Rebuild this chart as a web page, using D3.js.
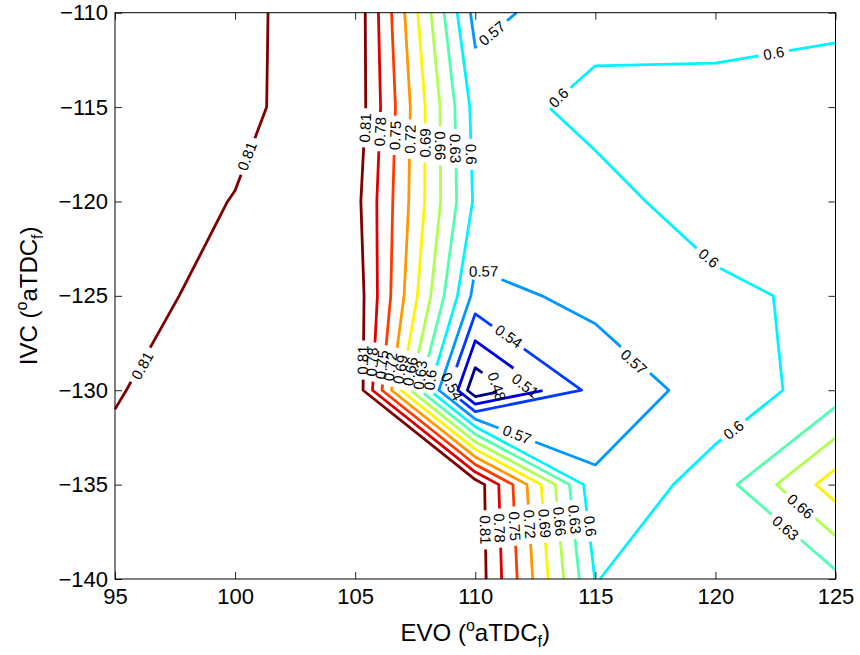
<!DOCTYPE html>
<html>
<head>
<meta charset="utf-8">
<script src="https://cdn.jsdelivr.net/npm/d3@7"></script>
<style>
  body { margin: 0; background: #fff; }
  svg text { font-family: "Liberation Sans", Arial, Helvetica, sans-serif; }
</style>
</head>
<body>
<svg id="chart" width="860" height="655"></svg>
<script>
// Grid axes (crank angle, degrees after firing TDC)
const evo = [95, 100, 105, 110, 115, 120, 125];
const ivc = [-140, -135, -130, -125, -120, -115, -110];

// Efficiency map, one row per IVC value (bottom to top), columns follow evo
const effIvc140 = [0.825, 0.830, 0.830, 0.831, 0.599, 0.625, 0.622];
const effIvc135 = [0.8204, 0.830, 0.830, 0.830, 0.575, 0.6135, 0.705];
const effIvc130 = [0.8074, 0.835, 0.835, 0.455, 0.551, 0.582, 0.614];
const effIvc125 = [0.7928, 0.825, 0.830, 0.560, 0.578, 0.5947, 0.6057];
const effIvc120 = [0.795, 0.811, 0.8207, 0.595, 0.5918, 0.6113, 0.615];
const effIvc115 = [0.795, 0.8024, 0.8313, 0.589, 0.607, 0.607, 0.6128];
const effIvc110 = [0.795, 0.8013, 0.833, 0.559, 0.591, 0.592, 0.594];

// Contour levels
const levels = [0.48, 0.51, 0.54, 0.57, 0.60, 0.63, 0.66, 0.69, 0.72, 0.75, 0.78, 0.81];

// Axis ticks
const xTicks = [95, 100, 105, 110, 115, 120, 125];
const yTicks = [-140, -135, -130, -125, -120, -115, -110];

// Inline contour label spots (level, EVO, IVC); optional fixed rotation
const labelSpots = [
  { level: 0.81, evo: 100.5, ivc: -117.6 },
  { level: 0.81, evo: 96.14, ivc: -128.7 },

  { level: 0.81, evo: 105.42, ivc: -116.1 },
  { level: 0.78, evo: 106.04, ivc: -116.3 },
  { level: 0.75, evo: 106.67, ivc: -116.5 },
  { level: 0.72, evo: 107.29, ivc: -116.7 },
  { level: 0.69, evo: 107.92, ivc: -116.9 },
  { level: 0.66, evo: 108.54, ivc: -117.05 },
  { level: 0.63, evo: 109.17, ivc: -117.2 },
  { level: 0.60, evo: 109.83, ivc: -117.5 },

  { level: 0.81, evo: 105.32, ivc: -128.4 },
  { level: 0.78, evo: 105.70, ivc: -128.5 },
  { level: 0.75, evo: 106.11, ivc: -128.65 },
  { level: 0.72, evo: 106.46, ivc: -128.75 },
  { level: 0.69, evo: 106.88, ivc: -128.9 },
  { level: 0.66, evo: 107.29, ivc: -129.0 },
  { level: 0.63, evo: 107.71, ivc: -129.2 },
  { level: 0.60, evo: 108.13, ivc: -129.45 },
  { level: 0.54, evo: 109.03, ivc: -129.8, angle: 62 },

  { level: 0.81, evo: 110.42, ivc: -137.4 },
  { level: 0.78, evo: 111.01, ivc: -137.3 },
  { level: 0.75, evo: 111.64, ivc: -137.2 },
  { level: 0.72, evo: 112.26, ivc: -137.1 },
  { level: 0.69, evo: 112.89, ivc: -137.05 },
  { level: 0.66, evo: 113.51, ivc: -136.95 },
  { level: 0.63, evo: 114.14, ivc: -136.85 },
  { level: 0.60, evo: 114.79, ivc: -137.2 },

  { level: 0.57, evo: 110.7, ivc: -111.1 },
  { level: 0.60, evo: 113.47, ivc: -114.5 },
  { level: 0.60, evo: 122.43, ivc: -112.15 },
  { level: 0.60, evo: 119.72, ivc: -123.0 },
  { level: 0.60, evo: 120.76, ivc: -132.1 },

  { level: 0.57, evo: 110.35, ivc: -123.7 },
  { level: 0.57, evo: 116.6, ivc: -128.5 },
  { level: 0.57, evo: 111.74, ivc: -132.35 },
  { level: 0.54, evo: 111.39, ivc: -127.15 },
  { level: 0.51, evo: 112.08, ivc: -129.75 },
  { level: 0.48, evo: 110.9, ivc: -129.8, angle: 72 },

  { level: 0.66, evo: 123.54, ivc: -136.15 },
  { level: 0.63, evo: 122.92, ivc: -137.3 }
];

const grid = [effIvc140, effIvc135, effIvc130, effIvc125, effIvc120, effIvc115, effIvc110];

const svg = d3.select("#chart");
const plot = { left: 115, right: 835.5, top: 12.7, bottom: 579 };

const x = d3.scaleLinear().domain([95, 125]).range([plot.left, plot.right]);
const y = d3.scaleLinear().domain([-140, -110]).range([plot.bottom, plot.top]);

// jet colormap stretched over the contour levels
const jet = d3.scaleLinear()
  .domain([0, 0.125, 0.375, 0.625, 0.875, 1])
  .range(["#000080", "#0000ff", "#00ffff", "#ffff00", "#ff0000", "#800000"]);
const levelT = d3.scaleLinear().domain([levels[0], levels[levels.length - 1]]).range([0, 1]);
const colorOf = v => jet(levelT(v));

// ---- contour tracing: straight segments inside each grid cell ----
function cellSegments(level) {
  const segs = [];
  for (let j = 0; j < ivc.length - 1; j++) {
    for (let i = 0; i < evo.length - 1; i++) {
      const z00 = grid[j][i], z10 = grid[j][i + 1], z01 = grid[j + 1][i], z11 = grid[j + 1][i + 1];
      const P00 = [evo[i], ivc[j]], P10 = [evo[i + 1], ivc[j]];
      const P01 = [evo[i], ivc[j + 1]], P11 = [evo[i + 1], ivc[j + 1]];
      const pts = [];
      const edge = (za, zb, key, pa, pb) => {
        if ((za < level) !== (zb < level)) {
          const t = (level - za) / (zb - za);
          pts.push({ key, p: [pa[0] + t * (pb[0] - pa[0]), pa[1] + t * (pb[1] - pa[1])] });
        } else {
          pts.push(null);
        }
      };
      edge(z00, z10, `h${i},${j}`, P00, P10);       // bottom
      edge(z10, z11, `v${i + 1},${j}`, P10, P11);   // right
      edge(z01, z11, `h${i},${j + 1}`, P01, P11);   // top
      edge(z00, z01, `v${i},${j}`, P00, P01);       // left
      const hit = pts.filter(p => p);
      if (hit.length === 2) {
        segs.push(hit);
      } else if (hit.length === 4) {
        const c = (z00 + z10 + z01 + z11) / 4;
        if ((c < level) === (z00 < level)) {
          segs.push([pts[0], pts[1]], [pts[2], pts[3]]);
        } else {
          segs.push([pts[0], pts[3]], [pts[1], pts[2]]);
        }
      }
    }
  }
  return segs;
}

function chain(segs) {
  const byKey = new Map();
  segs.forEach((s, idx) => s.forEach(e => {
    if (!byKey.has(e.key)) byKey.set(e.key, []);
    byKey.get(e.key).push(idx);
  }));
  const used = new Array(segs.length).fill(false);
  const lines = [];
  const walk = (startIdx, startKey) => {
    let idx = startIdx, key = startKey;
    const s0 = segs[idx];
    const pts = [(s0[0].key === key ? s0[0] : s0[1]).p];
    while (idx !== undefined && !used[idx]) {
      used[idx] = true;
      const s = segs[idx];
      const other = s[0].key === key ? s[1] : s[0];
      pts.push(other.p);
      key = other.key;
      idx = (byKey.get(key) || []).find(k => !used[k]);
    }
    return pts;
  };
  for (const [key, list] of byKey) {
    if (list.length === 1 && !used[list[0]]) lines.push({ pts: walk(list[0], key), closed: false });
  }
  segs.forEach((s, idx) => {
    if (!used[idx]) lines.push({ pts: walk(idx, s[0].key), closed: true });
  });
  return lines;
}

// ---- polyline helpers in pixel space ----
function cumLen(pts) {
  const c = [0];
  for (let k = 1; k < pts.length; k++) {
    c.push(c[k - 1] + Math.hypot(pts[k][0] - pts[k - 1][0], pts[k][1] - pts[k - 1][1]));
  }
  return c;
}
function pointAt(line, s) {
  const { pts, c, closed } = line;
  const T = c[c.length - 1];
  if (closed) s = ((s % T) + T) % T;
  if (s <= 0) return pts[0];
  if (s >= T) return pts[pts.length - 1];
  const k = d3.bisectRight(c, s);
  const t = (s - c[k - 1]) / (c[k] - c[k - 1]);
  return [pts[k - 1][0] + t * (pts[k][0] - pts[k - 1][0]), pts[k - 1][1] + t * (pts[k][1] - pts[k - 1][1])];
}
function subPath(line, a, b) {
  const out = [pointAt(line, a)];
  line.pts.forEach((p, k) => { if (line.c[k] > a && line.c[k] < b) out.push(p); });
  out.push(pointAt(line, b));
  return out;
}
function nearest(line, q) {
  let best = { s: 0, d: Infinity };
  const { pts, c } = line;
  for (let k = 1; k < pts.length; k++) {
    const a = pts[k - 1], b = pts[k];
    const dx = b[0] - a[0], dy = b[1] - a[1];
    const L2 = dx * dx + dy * dy;
    let t = L2 ? ((q[0] - a[0]) * dx + (q[1] - a[1]) * dy) / L2 : 0;
    t = Math.max(0, Math.min(1, t));
    const d = Math.hypot(q[0] - (a[0] + t * dx), q[1] - (a[1] + t * dy));
    if (d < best.d) best = { s: c[k - 1] + t * Math.sqrt(L2), d };
  }
  return best;
}
function visiblePieces(line) {
  const T = line.c[line.c.length - 1];
  if (!line.gaps.length) return [line.pts];
  let iv = [];
  line.gaps.forEach(([a, b]) => {
    if (line.closed) {
      const len = b - a;
      if (len >= T) { iv.push([0, T]); return; }
      a = ((a % T) + T) % T;
      const e = a + len;
      if (e > T) { iv.push([a, T], [0, e - T]); } else { iv.push([a, e]); }
    } else {
      iv.push([Math.max(0, a), Math.min(T, b)]);
    }
  });
  iv.sort((p, q) => p[0] - q[0]);
  const merged = [];
  iv.forEach(g => {
    const last = merged[merged.length - 1];
    if (last && g[0] <= last[1]) last[1] = Math.max(last[1], g[1]);
    else merged.push(g.slice());
  });
  const vis = [];
  let cur = 0;
  merged.forEach(([a, b]) => { if (a > cur) vis.push([cur, a]); cur = Math.max(cur, b); });
  if (cur < T) vis.push([cur, T]);
  const pieces = vis.map(([a, b]) => subPath(line, a, b));
  if (line.closed && vis.length > 1 && vis[0][0] === 0 && vis[vis.length - 1][1] === T) {
    const first = pieces.shift();
    const last = pieces.pop();
    pieces.push(last.concat(first.slice(1)));
  }
  return pieces.filter(p => p.length > 1);
}

// ---- build all contour lines ----
const contourLines = [];
levels.forEach(level => {
  chain(cellSegments(level)).forEach(l => {
    const pts = l.pts.map(p => [x(p[0]), y(p[1])]);
    contourLines.push({ level, pts, closed: l.closed, c: cumLen(pts), gaps: [] });
  });
});

// ---- labels: measure text, cut a gap in the line, orient along the gap chord ----
const labelLayer = svg.append("g").attr("class", "contour-labels");
const labelFont = 15;
labelSpots.forEach(spot => {
  const q = [x(spot.evo), y(spot.ivc)];
  let best = null;
  contourLines.filter(l => Math.abs(l.level - spot.level) < 1e-9).forEach(l => {
    const n = nearest(l, q);
    if (!best || n.d < best.n.d) best = { l, n };
  });
  if (!best) return;
  const txt = labelLayer.append("text")
    .attr("font-size", labelFont)
    .attr("text-anchor", "middle")
    .attr("dy", "0.35em")
    .text(String(spot.level));
  const w = txt.node().getComputedTextLength();
  const g = w / 2 + 5;
  const s0 = best.n.s;
  best.l.gaps.push([s0 - g, s0 + g]);
  let ang = spot.angle;
  if (ang === undefined) {
    const a = pointAt(best.l, s0 - g), b = pointAt(best.l, s0 + g);
    ang = Math.atan2(b[1] - a[1], b[0] - a[0]) * 180 / Math.PI;
    if (ang > 90) ang -= 180;
    if (ang <= -90) ang += 180;
  }
  txt.attr("transform", `translate(${q[0]},${q[1]}) rotate(${ang})`);
});

// ---- draw the contour lines (under the labels) ----
const lineGen = d3.line();
const lineLayer = svg.insert("g", ".contour-labels").attr("class", "contour-lines");
contourLines.forEach(l => {
  visiblePieces(l).forEach(piece => {
    lineLayer.append("path")
      .attr("d", lineGen(piece))
      .attr("fill", "none")
      .attr("stroke", colorOf(l.level))
      .attr("stroke-width", 2.8)
      .attr("stroke-linejoin", "round")
      .attr("stroke-linecap", "butt");
  });
});

// ---- axes (ticks inside, box on) ----
const tickFont = 22;
const styleAxis = g => {
  g.select(".domain").remove();
  g.selectAll(".tick line").attr("stroke", "#262626");
  g.attr("font-size", tickFont).attr("font-family", "'Liberation Sans', Arial, sans-serif");
};
svg.append("g")
  .attr("transform", `translate(0,${plot.bottom})`)
  .call(d3.axisBottom(x).tickValues(xTicks).tickSizeInner(-7).tickSizeOuter(0).tickPadding(9))
  .call(styleAxis)
  .selectAll("text").attr("fill", "#000");
svg.append("g")
  .attr("transform", `translate(${plot.left},0)`)
  .call(d3.axisLeft(y).tickValues(yTicks).tickSizeInner(-7).tickSizeOuter(0).tickPadding(7))
  .call(styleAxis)
  .selectAll("text").attr("fill", "#000");
svg.append("g")
  .attr("transform", `translate(0,${plot.top})`)
  .call(d3.axisTop(x).tickValues(xTicks).tickSizeInner(-7).tickSizeOuter(0).tickFormat(""))
  .call(styleAxis);
svg.append("g")
  .attr("transform", `translate(${plot.right},0)`)
  .call(d3.axisRight(y).tickValues(yTicks).tickSizeInner(-7).tickSizeOuter(0).tickFormat(""))
  .call(styleAxis);

svg.append("rect")
  .attr("x", plot.left).attr("y", plot.top)
  .attr("width", plot.right - plot.left).attr("height", plot.bottom - plot.top)
  .attr("fill", "none").attr("stroke", "#000").attr("stroke-width", 1);

// ---- axis titles ----
const titleFont = 24;
function title(sel, name) {
  sel.append("tspan").text(name + " (");
  sel.append("tspan").attr("font-size", 16).attr("dy", -10).text("o");
  sel.append("tspan").attr("dy", 10).text("aTDC");
  sel.append("tspan").attr("font-size", 16).attr("dy", 6).text("f");
  sel.append("tspan").attr("dy", -6).text(")");
}
svg.append("text")
  .attr("x", (plot.left + plot.right) / 2).attr("y", 641)
  .attr("text-anchor", "middle").attr("font-size", titleFont)
  .call(title, "EVO");
svg.append("text")
  .attr("transform", `translate(37,${(plot.top + plot.bottom) / 2}) rotate(-90)`)
  .attr("text-anchor", "middle").attr("font-size", titleFont)
  .call(title, "IVC");
</script>
</body>
</html>
